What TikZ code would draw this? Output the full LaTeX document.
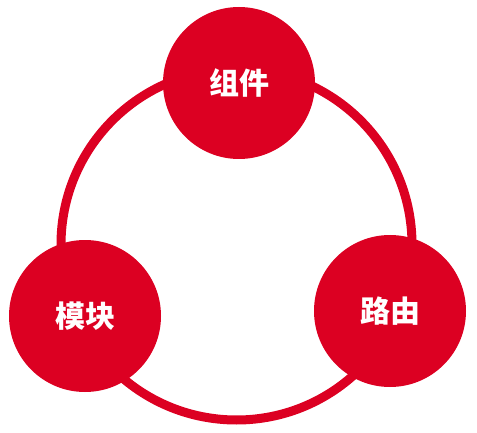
\documentclass[tikz,border=0pt]{standalone}
\usepackage{fontspec}
\usepackage{tikz}
\usetikzlibrary{shapes,positioning}
\newfontfamily\cjk{Noto Sans CJK SC}
\definecolor{hub}{RGB}{220,0,34}
\tikzstyle{ring} = [draw=hub,line width=9pt]
\tikzstyle{part} = [circle,fill=hub,minimum size=152pt,inner sep=0,text=white,font=\cjk\bfseries\fontsize{30pt}{30pt}\selectfont]
\def \rr {175.5}

\begin{document}
\begin{tikzpicture}[x=1pt,y=-1pt]
      \useasboundingbox (0,0) rectangle (477,433);
      \coordinate (c) at (236.5,244.5);
      \draw[ring] (c) circle (\rr);
      \node[part] (zujian) at (239,83) {组件};
      \node[part] (mokuai) at (85,316) {模块};
      \node[part] (luyou) at (390,311) {路由};
    \end{tikzpicture}
\end{document}
